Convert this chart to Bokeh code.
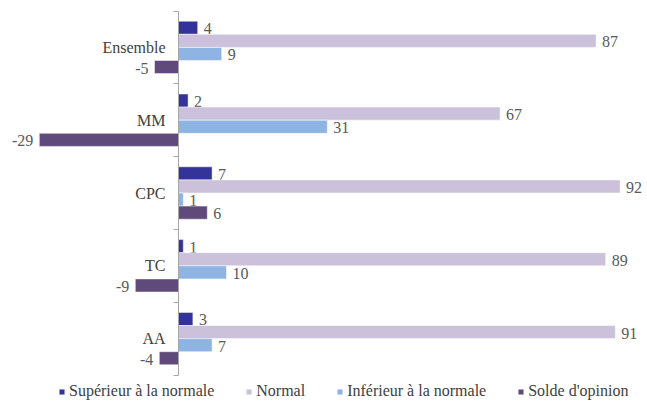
from bokeh.plotting import figure
from bokeh.models import Range1d, FixedTicker, LinearAxis, ColumnDataSource, Legend, LegendItem
from bokeh.core.properties import value
from bokeh.embed import file_html
from bokeh.resources import INLINE

categories = ["Ensemble", "MM", "CPC", "TC", "AA"]
series_names = ["Supérieur à la normale", "Normal", "Inférieur à la normale", "Solde d'opinion"]
superieur = [4, 2, 7, 1, 3]
normal = [87, 67, 92, 89, 91]
inferieur = [9, 31, 1, 10, 7]
solde = [-5, -29, 6, -9, -4]
series_values = [superieur, normal, inferieur, solde]
colors = ["#333399", "#CCC1DA", "#8DB4E2", "#604A7B"]

FONT = "Liberation Serif"
W, H = 647, 400
px_per_unit = 4.8
zero_px = 178.0          # position of zero inside the figure
cat_px = 72.8            # height of one category band
top_px = 10.5            # top of first category band

x0 = -zero_px / px_per_unit
x1 = (W - zero_px) / px_per_unit
y_top = -top_px / cat_px
y_bottom = (H - top_px) / cat_px

p = figure(width=W, height=H, output_backend="svg", toolbar_location=None,
           x_range=Range1d(x0, x1), y_range=Range1d(y_bottom, y_top),
           x_axis_type=None, y_axis_type=None, min_border=0)
p.grid.visible = False
p.outline_line_color = None
p.background_fill_color = "white"

n = len(categories)
bar_h = 0.18
renderers = []
for k, (name, vals, col) in enumerate(zip(series_names, series_values, colors)):
    ys = [i + 0.5 + (k - 1.5) * bar_h for i in range(n)]
    src = ColumnDataSource(dict(y=ys, v=vals))
    r = p.hbar(y="y", left=0, right="v", height=bar_h, source=src,
               fill_color=col, line_color="white", line_width=0.5)
    renderers.append(r)
    pos = ColumnDataSource(dict(y=[y for y, v in zip(ys, vals) if v >= 0],
                                v=[v for v in vals if v >= 0],
                                t=[str(v) for v in vals if v >= 0]))
    neg = ColumnDataSource(dict(y=[y for y, v in zip(ys, vals) if v < 0],
                                v=[v for v in vals if v < 0],
                                t=[str(v) for v in vals if v < 0]))
    p.text(x="v", y="y", text="t", source=pos, x_offset=6, y_offset=1,
           text_align="left", text_baseline="middle",
           text_font=value(FONT), text_font_size="16px", text_color="#595959")
    p.text(x="v", y="y", text="t", source=neg, x_offset=-6, y_offset=1,
           text_align="right", text_baseline="middle",
           text_font=value(FONT), text_font_size="16px", text_color="#595959")

yaxis = LinearAxis(fixed_location=0, bounds=(0, n),
                   ticker=FixedTicker(ticks=[i + 0.5 for i in range(n)],
                                      minor_ticks=list(range(n + 1))))
yaxis.major_label_overrides = {i + 0.5: c for i, c in enumerate(categories)}
yaxis.major_tick_out = 0
yaxis.major_tick_in = 0
yaxis.minor_tick_out = 5
yaxis.minor_tick_in = 0
yaxis.axis_line_color = "#A6A6A6"
yaxis.minor_tick_line_color = "#A6A6A6"
yaxis.major_label_text_font = FONT
yaxis.major_label_text_font_size = "16px"
yaxis.major_label_text_color = "#404040"
yaxis.major_label_standoff = 8
p.add_layout(yaxis, "left")

legend = Legend(items=[LegendItem(label=nm, renderers=[r]) for nm, r in zip(series_names, renderers)],
                orientation="horizontal", location=(58, 0),
                glyph_width=7, glyph_height=7, label_standoff=4, spacing=31,
                padding=0, margin=0, label_height=16,
                label_text_font=FONT, label_text_font_size="16px", label_text_color="#404040",
                background_fill_alpha=0, border_line_color=None)
p.add_layout(legend)

open("out.html", "w").write(file_html(p, INLINE))
